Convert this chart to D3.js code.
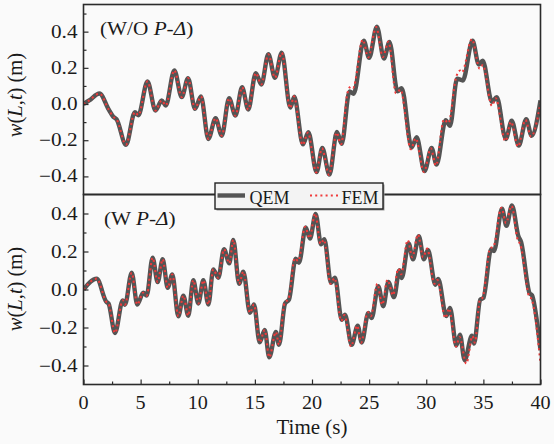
<!DOCTYPE html>
<html><head><meta charset="utf-8">
<script src="https://cdn.jsdelivr.net/npm/d3@7"></script>
<style>
html,body{margin:0;padding:0;background:#fafafa;}
svg{display:block;font-family:"Liberation Serif","Times New Roman",serif;}
</style></head><body>
<svg id="chart" width="554" height="444"></svg>
<script>
// ---------- data ----------
const xTicks = [0, 5, 10, 15, 20, 25, 30, 35, 40];
const xMinorTicks = [2.5, 7.5, 12.5, 17.5, 22.5, 27.5, 32.5, 37.5];
const yTicks = [-0.4, -0.2, 0, 0.2, 0.4];
const yMinorTicksTop = [-0.3, -0.1, 0.1, 0.3, 0.5];
const yMinorTicksBottom = [-0.3, -0.1, 0.1, 0.3];
const seriesNames = ["QEM", "FEM"];
const panelLabels = ["(W/O ", "(W "];

// top panel (without P-Delta): [time (s), w (m)]
const topQEM = [
  [0,0],[0.5,0.02],[1.4,0.058],[2.2,-0.03],[2.6,-0.07],[2.9,-0.085],[3.72,-0.225],
  [4.5,-0.045],[4.8,-0.062],[5.6,0.125],[6.3,-0.036],[6.85,0.02],[7.2,-0.008],
  [7.95,0.186],[8.6,0.038],[9.15,0.143],[9.76,-0.027],[10.28,0.042],[10.93,-0.193],
  [11.56,-0.078],[12.1,-0.175],[12.74,0.032],[13.3,-0.064],[13.88,0.093],[14.42,-0.03],
  [15.08,0.171],[15.57,0.108],[16.18,0.275],[16.76,0.145],[17.35,0.284],[18.1,-0.02],
  [18.45,0.04],[19.2,-0.223],[19.68,-0.156],[20.4,-0.376],[20.9,-0.243],[21.53,-0.39],
  [22.18,-0.155],[22.6,-0.22],[23.28,0.07],[23.65,0.057],[24.53,0.35],[25.0,0.255],
  [25.68,0.428],[26.3,0.251],[26.78,0.343],[27.48,0.07],[27.85,0.088],[28.72,-0.24],
  [29.16,-0.184],[29.85,-0.37],[30.47,-0.243],[30.9,-0.335],[31.7,-0.09],[32.08,-0.12],
  [32.7,0.14],[33.2,0.13],[34.05,0.35],[34.6,0.218],[34.94,0.24],[35.75,0.012],
  [36.17,0.038],[36.96,-0.193],[37.48,-0.092],[38.1,-0.23],[38.75,-0.084],[39.22,-0.175],
  [40,0.02]
];
const topFEM = [
  [0,0],[0.5,0.02],[1.4,0.058],[2.2,-0.03],[2.6,-0.07],[2.9,-0.085],[3.72,-0.225],
  [4.5,-0.045],[4.8,-0.062],[5.6,0.125],[6.3,-0.036],[6.85,0.02],[7.2,-0.008],
  [7.95,0.186],[8.6,0.038],[9.15,0.143],[9.76,-0.027],[10.28,0.042],[10.93,-0.193],
  [11.56,-0.078],[12.1,-0.175],[12.74,0.032],[13.3,-0.064],[13.88,0.093],[14.42,-0.03],
  [15.08,0.171],[15.57,0.108],[16.18,0.275],[16.76,0.145],[17.35,0.284],[18.08,-0.022],
  [18.42,0.042],[19.18,-0.226],[19.65,-0.158],[20.37,-0.378],[20.87,-0.245],[21.5,-0.392],
  [22.15,-0.158],[22.55,-0.222],[23.1,0.06],[23.42,0.098],[23.6,0.09],[24.45,0.355],
  [24.92,0.258],[25.62,0.425],[26.2,0.26],[26.7,0.345],[27.35,0.06],[27.75,0.08],
  [28.65,-0.25],[29.08,-0.19],[29.8,-0.375],[30.4,-0.245],[30.85,-0.34],[31.55,-0.085],
  [31.95,-0.105],[32.6,0.145],[32.98,0.185],[33.12,0.175],[34.0,0.358],[34.68,0.195],
  [34.95,0.215],[35.75,-0.01],[36.08,0.032],[36.92,-0.205],[37.42,-0.098],[38.03,-0.235],
  [38.68,-0.088],[39.17,-0.18],[40,0.005]
];

// bottom panel (with P-Delta)
const bottomQEM = [
  [0,0],[1.15,0.057],[2.0,-0.065],[2.2,-0.075],[2.76,-0.229],[3.43,-0.057],[3.63,-0.08],
  [4.22,0.088],[4.71,-0.079],[5.23,-0.017],[5.53,-0.032],[6.05,0.168],[6.49,0.039],
  [6.93,0.159],[7.37,0.009],[7.77,0.079],[8.3,-0.141],[8.74,-0.032],[9.17,-0.138],
  [9.61,0.049],[10.05,-0.074],[10.49,0.049],[10.93,-0.079],[11.36,0.106],[11.8,0.062],
  [12.3,0.212],[12.76,0.138],[13.11,0.261],[13.62,0.03],[13.99,0.094],[14.57,-0.123],
  [14.92,-0.079],[15.42,-0.278],[15.86,-0.213],[16.26,-0.357],[16.84,-0.223],[17.11,-0.291],
  [17.64,-0.074],[17.99,-0.053],[18.57,0.162],[18.86,0.141],[19.45,0.326],[19.82,0.268],
  [20.32,0.397],[20.79,0.238],[21.08,0.265],[21.66,0.035],[22.01,0.062],[22.6,-0.159],
  [22.89,-0.132],[23.47,-0.291],[24.0,-0.19],[24.35,-0.279],[24.93,-0.123],[25.22,-0.15],
  [25.8,0.018],[26.24,-0.088],[26.68,0.04],[27.18,-0.04],[27.65,0.102],[27.85,0.06],
  [28.46,0.243],[28.84,0.159],[29.35,0.28],[29.8,0.159],[30.15,0.208],[30.8,0.025],
  [31.05,0.055],[31.75,-0.14],[32.08,-0.097],[32.63,-0.295],[32.95,-0.238],[33.36,-0.372],
  [34.0,-0.243],[34.18,-0.285],[34.73,-0.053],[35.0,-0.045],[35.68,0.212],[35.93,0.203],
  [36.63,0.425],[37.02,0.335],[37.5,0.442],[38.06,0.282],[38.3,0.25],[39.05,-0.02],
  [39.25,-0.03],[40,-0.32]
];
const bottomFEM = [
  [0,0],[1.15,0.057],[2.0,-0.065],[2.2,-0.075],[2.76,-0.229],[3.43,-0.057],[3.63,-0.08],
  [4.22,0.088],[4.71,-0.079],[5.23,-0.017],[5.53,-0.032],[6.05,0.168],[6.49,0.039],
  [6.93,0.159],[7.37,0.009],[7.77,0.079],[8.3,-0.141],[8.74,-0.032],[9.17,-0.138],
  [9.61,0.049],[10.05,-0.074],[10.49,0.049],[10.93,-0.079],[11.36,0.106],[11.8,0.062],
  [12.3,0.212],[12.76,0.138],[13.11,0.261],[13.62,0.03],[13.99,0.094],[14.57,-0.123],
  [14.92,-0.079],[15.42,-0.278],[15.86,-0.213],[16.26,-0.357],[16.84,-0.223],[17.11,-0.291],
  [17.6,-0.07],[17.95,-0.05],[18.5,0.165],[18.8,0.15],[19.4,0.33],[19.78,0.27],
  [20.28,0.4],[20.75,0.24],[21.05,0.262],[21.62,0.03],[21.98,0.06],[22.55,-0.165],
  [22.85,-0.135],[23.42,-0.3],[23.95,-0.19],[24.3,-0.28],[24.88,-0.12],[25.15,-0.14],
  [25.72,0.03],[26.15,-0.08],[26.6,0.05],[27.1,-0.03],[27.55,0.11],[27.8,0.08],
  [28.38,0.26],[28.78,0.17],[29.28,0.29],[29.72,0.17],[30.08,0.215],[30.72,0.03],
  [30.98,0.05],[31.68,-0.15],[32.0,-0.1],[32.6,-0.3],[32.92,-0.25],[33.5,-0.39],
  [34.05,-0.245],[34.25,-0.28],[34.68,-0.058],[34.95,-0.04],[35.6,0.218],[35.88,0.225],
  [36.58,0.43],[36.98,0.35],[37.47,0.44],[38.0,0.262],[38.25,0.235],[39.0,-0.035],
  [39.22,-0.05],[40,-0.39]
];

// ---------- layout ----------
const L = 83.5, R = 540.5, T1 = 4.5, M = 194.5, B2 = 384.5;
const svg = d3.select("#chart");
const x = d3.scaleLinear().domain([0, 40]).range([L, R]);
const yTop = d3.scaleLinear().domain([-0.5, 0.55]).range([M, T1]);
const yBot = d3.scaleLinear().domain([-0.5, 0.5]).range([B2, M]);
const fmt = d3.format(".1f");
const ink = "#2b2b2b";

svg.append("rect").attr("width", 554).attr("height", 444).attr("fill", "#fafafa");

// clip paths
const defs = svg.append("defs");
defs.append("clipPath").attr("id", "clipTop").append("rect")
  .attr("x", L).attr("y", T1).attr("width", R - L).attr("height", M - T1);
defs.append("clipPath").attr("id", "clipBot").append("rect")
  .attr("x", L).attr("y", M).attr("width", R - L).attr("height", B2 - M);

// curves
const line = (ys) => d3.line().x(d => x(d[0])).y(d => ys(d[1])).curve(d3.curveMonotoneX);
function drawSeries(ys, qem, fem, clip) {
  const g = svg.append("g").attr("clip-path", `url(#${clip})`);
  g.append("path").datum(qem).attr("d", line(ys)).attr("fill", "none")
    .attr("stroke", "#545454").attr("stroke-width", 4.4).attr("stroke-linejoin", "round");
  g.append("path").datum(fem).attr("d", line(ys)).attr("fill", "none")
    .attr("stroke", "#f03a3a").attr("stroke-width", 2.1).attr("stroke-dasharray", "2 3.2");
}
drawSeries(yTop, topQEM, topFEM, "clipTop");
drawSeries(yBot, bottomQEM, bottomFEM, "clipBot");

// axes (ticks inward)
function yAxis(ys, minors) {
  const g = svg.append("g").attr("transform", `translate(${L},0)`);
  g.call(d3.axisLeft(ys).tickValues(yTicks).tickSizeInner(-5).tickSizeOuter(0).tickFormat(""));
  const g2 = svg.append("g").attr("transform", `translate(${L},0)`);
  g2.call(d3.axisLeft(ys).tickValues(minors).tickSizeInner(-3).tickSizeOuter(0).tickFormat(""));
  [g, g2].forEach(a => { a.select(".domain").remove(); a.selectAll("line").attr("stroke", ink).attr("stroke-width", 1.2); });
  yTicks.forEach(v => {
    svg.append("text")
      .attr("transform", `translate(77.5,${ys(v) + 6}) scale(1.18,1)`)
      .attr("text-anchor", "end").attr("font-size", 18).attr("fill", "#1a1a1a")
      .text(fmt(v));
  });
}
yAxis(yTop, yMinorTicksTop);
yAxis(yBot, yMinorTicksBottom);

const gx = svg.append("g").attr("transform", `translate(0,${B2})`);
gx.call(d3.axisBottom(x).tickValues(xTicks).tickSizeInner(-5).tickSizeOuter(0).tickFormat(""));
const gx2 = svg.append("g").attr("transform", `translate(0,${B2})`);
gx2.call(d3.axisBottom(x).tickValues(xMinorTicks).tickSizeInner(-3).tickSizeOuter(0).tickFormat(""));
[gx, gx2].forEach(a => { a.select(".domain").remove(); a.selectAll("line").attr("stroke", ink).attr("stroke-width", 1.2); });
xTicks.forEach(v => {
  svg.append("text")
    .attr("transform", `translate(${x(v)},409) scale(1.12,1)`)
    .attr("text-anchor", "middle").attr("font-size", 18).attr("fill", "#1a1a1a")
    .text(v);
});

// frames
svg.append("rect").attr("x", L).attr("y", T1).attr("width", R - L).attr("height", M - T1)
  .attr("fill", "none").attr("stroke", ink).attr("stroke-width", 1.6);
svg.append("rect").attr("x", L).attr("y", M).attr("width", R - L).attr("height", B2 - M)
  .attr("fill", "none").attr("stroke", ink).attr("stroke-width", 1.6);

// axis titles
svg.append("text").attr("x", (L + R) / 2).attr("y", 434).attr("text-anchor", "middle")
  .attr("font-size", 21).attr("fill", "#1a1a1a").text("Time (s)");

function yTitle(cy) {
  const t = svg.append("text").attr("transform", `translate(22,${cy}) rotate(-90)`)
    .attr("text-anchor", "middle").attr("font-size", 20.5).attr("fill", "#1a1a1a");
  t.append("tspan").attr("font-style", "italic").text("w");
  t.append("tspan").text("(");
  t.append("tspan").attr("font-style", "italic").text("L");
  t.append("tspan").text(",");
  t.append("tspan").attr("font-style", "italic").text("t");
  t.append("tspan").text(") (m)");
}
yTitle(95);
yTitle(289);

// panel annotations
function annot(px, py, prefix) {
  const t = svg.append("text").attr("transform", `translate(${px},${py}) scale(1.18,1)`)
    .attr("font-size", 18).attr("fill", "#1a1a1a");
  t.append("tspan").text(prefix);
  t.append("tspan").attr("font-style", "italic").text("P");
  t.append("tspan").text("-");
  t.append("tspan").attr("font-style", "italic").text("Δ");
  t.append("tspan").text(")");
}
annot(100, 34.5, panelLabels[0]);
annot(104, 224.5, panelLabels[1]);

// legend
const lg = svg.append("g");
lg.append("rect").attr("x", 216.5).attr("y", 184.5).attr("width", 168).attr("height", 26)
  .attr("fill", "#9a9a9a");
lg.append("rect").attr("x", 215).attr("y", 183).attr("width", 168).attr("height", 26)
  .attr("fill", "#f3f3f3").attr("stroke", "#222").attr("stroke-width", 1.4);
lg.append("line").attr("x1", 217.5).attr("x2", 245).attr("y1", 195.5).attr("y2", 195.5)
  .attr("stroke", "#545454").attr("stroke-width", 4.4);
lg.append("text").attr("x", 249.5).attr("y", 203.5).attr("font-size", 18).attr("fill", "#1a1a1a").text(seriesNames[0]);
lg.append("line").attr("x1", 310).attr("x2", 338).attr("y1", 195.5).attr("y2", 195.5)
  .attr("stroke", "#f03a3a").attr("stroke-width", 2.1).attr("stroke-dasharray", "2 3.2");
lg.append("text").attr("x", 341.5).attr("y", 203.5).attr("font-size", 18).attr("fill", "#1a1a1a").text(seriesNames[1]);
</script>
</body></html>
